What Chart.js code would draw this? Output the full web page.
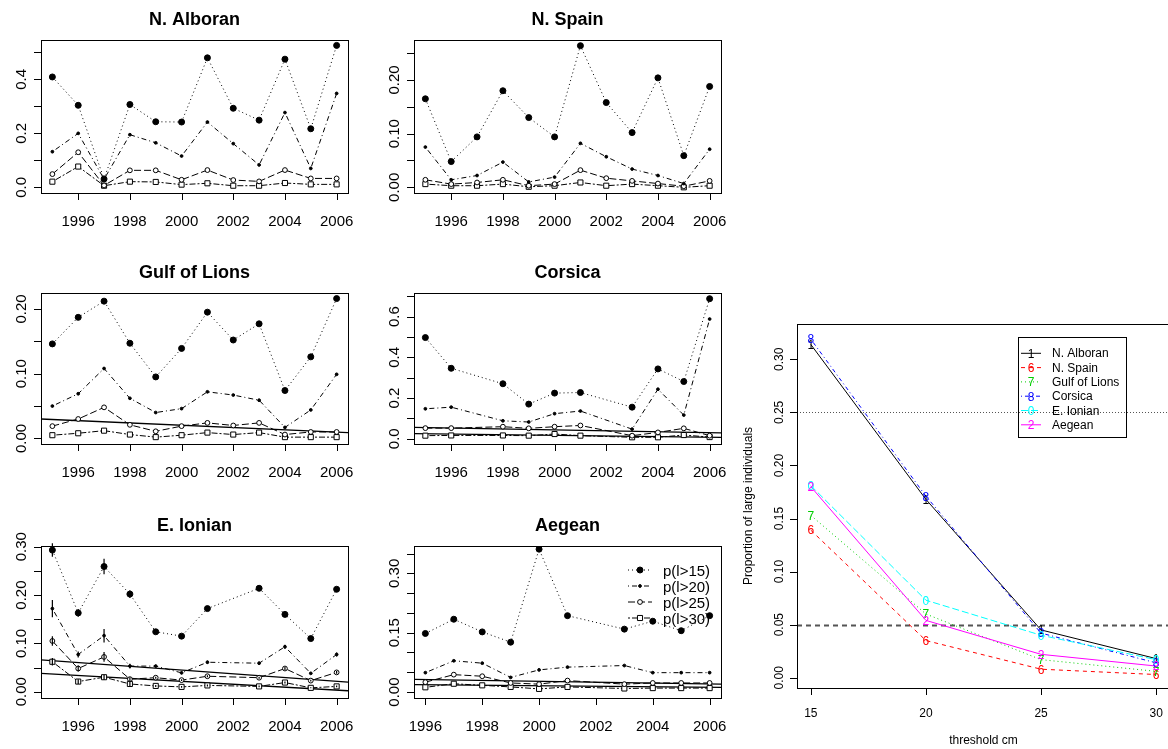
<!DOCTYPE html>
<html>
<head>
<meta charset="utf-8">
<title>Proportion of large individuals</title>
<script src="https://cdn.jsdelivr.net/npm/chart.js@4/dist/chart.umd.min.js"></script>
<style>
    body { margin: 0; background: #fff; overflow: hidden; }
    #wrap { position: relative; width: 1168px; height: 749px; overflow: hidden; background: #fff; }
    #wrap canvas { position: absolute; }
</style>
</head>
<body>
<div id="wrap"></div>
<script>
// ---- Données ----
const yearsAll = [1995, 1996, 1997, 1998, 1999, 2000, 2001, 2002, 2003, 2004, 2005, 2006];
const yearsCorsica = [1995, 1996, 1998, 1999, 2000, 2001, 2003, 2004, 2005, 2006];
const yearsIonian = [1995, 1996, 1997, 1998, 1999, 2000, 2001, 2003, 2004, 2005, 2006];
const yearsAegean = [1996, 1997, 1998, 1999, 2000, 2001, 2003, 2004, 2005, 2006];
const yearTicks = [1996, 1998, 2000, 2002, 2004, 2006];

const seriesLabels = ['p(l>15)', 'p(l>20)', 'p(l>25)', 'p(l>30)'];

const alboran15 = [0.409, 0.304, 0.031, 0.307, 0.243, 0.242, 0.480, 0.293, 0.249, 0.475, 0.217, 0.526];
const alboran20 = [0.132, 0.200, 0.030, 0.195, 0.165, 0.116, 0.242, 0.162, 0.083, 0.277, 0.070, 0.348];
const alboran25 = [0.049, 0.130, 0.007, 0.063, 0.063, 0.028, 0.064, 0.027, 0.022, 0.064, 0.033, 0.033];
const alboran30 = [0.021, 0.077, 0.006, 0.021, 0.020, 0.010, 0.015, 0.006, 0.006, 0.016, 0.011, 0.011];

const spain15 = [0.165, 0.048, 0.094, 0.180, 0.130, 0.094, 0.264, 0.158, 0.102, 0.204, 0.059, 0.188];
const spain20 = [0.075, 0.014, 0.022, 0.047, 0.010, 0.019, 0.082, 0.057, 0.034, 0.022, 0.007, 0.071];
const spain25 = [0.014, 0.006, 0.009, 0.014, 0.003, 0.006, 0.032, 0.017, 0.012, 0.007, 0.002, 0.012];
const spain30 = [0.006, 0.003, 0.003, 0.006, 0.001, 0.003, 0.009, 0.003, 0.006, 0.003, 0.000, 0.003];

const lions15 = [0.146, 0.187, 0.212, 0.147, 0.095, 0.139, 0.195, 0.152, 0.177, 0.074, 0.126, 0.216];
const lions20 = [0.050, 0.069, 0.108, 0.062, 0.040, 0.046, 0.072, 0.067, 0.059, 0.017, 0.044, 0.099];
const lions25 = [0.019, 0.030, 0.048, 0.021, 0.011, 0.019, 0.024, 0.020, 0.024, 0.006, 0.010, 0.010];
const lions30 = [0.005, 0.008, 0.012, 0.006, 0.002, 0.005, 0.009, 0.006, 0.009, 0.002, 0.002, 0.002];
const lionsTrend = [[0.030, 0.009]];

const corsica15 = [0.497, 0.346, 0.270, 0.170, 0.224, 0.227, 0.155, 0.343, 0.281, 0.688];
const corsica20 = [0.147, 0.155, 0.088, 0.082, 0.123, 0.136, 0.047, 0.243, 0.116, 0.588];
const corsica25 = [0.052, 0.052, 0.059, 0.051, 0.059, 0.065, 0.015, 0.031, 0.051, 0.015];
const corsica30 = [0.015, 0.016, 0.016, 0.015, 0.023, 0.015, 0.007, 0.007, 0.018, 0.008];
const corsicaTrend = [[0.056, 0.029], [0.025, 0.007]];

const ionian15 = [0.293, 0.163, 0.259, 0.202, 0.124, 0.115, 0.172, 0.214, 0.160, 0.110, 0.212];
const ionian20 = [0.172, 0.077, 0.116, 0.053, 0.053, 0.039, 0.061, 0.059, 0.093, 0.038, 0.077];
const ionian25 = [0.105, 0.048, 0.072, 0.026, 0.029, 0.024, 0.032, 0.029, 0.048, 0.023, 0.040];
const ionian30 = [0.062, 0.021, 0.030, 0.016, 0.012, 0.010, 0.013, 0.011, 0.019, 0.008, 0.011];
const ionianErr15 = [0.014, 0.008, 0.016, 0.008, 0.004, 0.003, 0.003, 0.004, 0.004, 0.003, 0.004];
const ionianErr20 = [0.018, 0.006, 0.014, 0.005, 0.003, 0.003, 0.003, 0.003, 0.004, 0.002, 0.004];
const ionianErr25 = [0.010, 0.006, 0.010, 0.004, 0.002, 0.002, 0.002, 0.002, 0.003, 0.002, 0.003];
const ionianErr30 = [0.008, 0.005, 0.005, 0.004, 0.002, 0.002, 0.002, 0.002, 0.002, 0.001, 0.002];
const ionianTrend = [[0.066, 0.020], [0.038, 0.002]];

const aegean15 = [0.148, 0.184, 0.152, 0.126, 0.361, 0.193, 0.159, 0.179, 0.155, 0.193];
const aegean20 = [0.049, 0.079, 0.073, 0.037, 0.056, 0.063, 0.067, 0.049, 0.049, 0.049];
const aegean25 = [0.025, 0.044, 0.040, 0.023, 0.020, 0.029, 0.020, 0.023, 0.023, 0.023];
const aegean30 = [0.012, 0.021, 0.017, 0.013, 0.008, 0.013, 0.009, 0.010, 0.010, 0.010];
const aegeanTrend = [[0.032, 0.020], [0.019, 0.012]];

// Graphique de droite
const thresholds = [15, 20, 25, 30];
const regionNames = ['N. Alboran', 'N. Spain', 'Gulf of Lions', 'Corsica', 'E. Ionian', 'Aegean'];
const regionChars = ['1', '6', '7', '8', '0', '2'];
const propAlboran = [0.314, 0.168, 0.045, 0.018];
const propSpain = [0.139, 0.035, 0.008, 0.003];
const propLions = [0.153, 0.060, 0.017, 0.006];
const propCorsica = [0.319, 0.171, 0.042, 0.014];
const propIonian = [0.181, 0.073, 0.040, 0.017];
const propAegean = [0.180, 0.054, 0.022, 0.011];
const refLevels = [0.25, 0.05];

// ---- Styles ----
const FONT = '"Liberation Sans", Arial, Helvetica, sans-serif';
const seriesLook = [
    { dash: [1, 3], shape: 'circle', r: 3, fill: '#000', bw: 1 },
    { dash: [1, 3, 5, 3], shape: 'circle', r: 1.4, fill: '#000', bw: 1 },
    { dash: [7, 3], shape: 'circle', r: 2.4, fill: '#fff', bw: 1 },
    { dash: [2, 2, 6, 2], shape: 'rect', r: 3.6, fill: '#fff', bw: 1 }
];
const regionColors = ['#000000', '#FF0000', '#00CD00', '#0000FF', '#00FFFF', '#FF00FF'];
const regionDash = [[], [4, 4], [1, 3], [1, 3, 4, 3], [7, 3], []];
const refStyles = [
    { color: '#555', width: 1, dash: [1, 2] },
    { color: '#555', width: 2, dash: [5, 4] }
];

const panels = [
    { title: 'N. Alboran', years: yearsAll, series: [alboran15, alboran20, alboran25, alboran30], trends: [],
      box: [41, 40, 348, 193], x: [1994.56, 2006.44], y: [-0.021, 0.546],
      yTicks: [0, 0.1, 0.2, 0.3, 0.4, 0.5], yLabels: [0, 0.2, 0.4], dec: 1 },
    { title: 'N. Spain', years: yearsAll, series: [spain15, spain20, spain25, spain30], trends: [],
      box: [414, 40, 721, 193], x: [1994.56, 2006.44], y: [-0.0106, 0.2746],
      yTicks: [0, 0.05, 0.1, 0.15, 0.2, 0.25], yLabels: [0, 0.1, 0.2], dec: 2 },
    { title: 'Gulf of Lions', years: yearsAll, series: [lions15, lions20, lions25, lions30], trends: lionsTrend,
      box: [41, 293, 348, 444], x: [1994.56, 2006.44], y: [-0.0086, 0.2246],
      yTicks: [0, 0.05, 0.1, 0.15, 0.2], yLabels: [0, 0.1, 0.2], dec: 2 },
    { title: 'Corsica', years: yearsCorsica, series: [corsica15, corsica20, corsica25, corsica30], trends: corsicaTrend,
      box: [414, 293, 721, 444], x: [1994.56, 2006.44], y: [-0.026, 0.716],
      yTicks: [0, 0.1, 0.2, 0.3, 0.4, 0.5, 0.6, 0.7], yLabels: [0, 0.2, 0.4, 0.6], dec: 1 },
    { title: 'E. Ionian', years: yearsIonian, series: [ionian15, ionian20, ionian25, ionian30], trends: ionianTrend,
      errs: [ionianErr15, ionianErr20, ionianErr25, ionianErr30],
      box: [41, 546, 348, 698], x: [1994.56, 2006.44], y: [-0.013, 0.3015],
      yTicks: [0, 0.05, 0.1, 0.15, 0.2, 0.25, 0.3], yLabels: [0, 0.1, 0.2, 0.3], dec: 2 },
    { title: 'Aegean', years: yearsAegean, series: [aegean15, aegean20, aegean25, aegean30], trends: aegeanTrend,
      box: [414, 546, 721, 698], x: [1995.6, 2006.4], y: [-0.015, 0.369],
      yTicks: [0, 0.05, 0.1, 0.15, 0.2, 0.25, 0.3, 0.35], yLabels: [0, 0.15, 0.3], dec: 2,
      legend: { lineX: [214, 238], textX: 249, rowY: [24, 40, 56, 72] } }
];

const wrap = document.getElementById('wrap');

function makeCanvas(box, pad) {
    const c = document.createElement('canvas');
    const w = box[2] - box[0] + pad.left + pad.right;
    const h = box[3] - box[1] + pad.top + pad.bottom;
    c.width = w; c.height = h;
    c.style.width = w + 'px'; c.style.height = h + 'px';
    c.style.left = (box[0] - pad.left) + 'px';
    c.style.top = (box[1] - pad.top) + 'px';
    wrap.appendChild(c);
    return c;
}

function drawMark(ctx, look, x, y) {
    ctx.save();
    ctx.setLineDash([]);
    ctx.lineWidth = look.bw;
    ctx.strokeStyle = '#000';
    ctx.fillStyle = look.fill;
    ctx.beginPath();
    if (look.shape === 'rect') {
        const s = look.r / Math.SQRT2;
        ctx.rect(x - s, y - s, 2 * s, 2 * s);
    } else {
        ctx.arc(x, y, look.r, 0, 2 * Math.PI);
    }
    ctx.fill();
    ctx.stroke();
    ctx.restore();
}

// Axes façon R : cadre, graduations vers l'extérieur, étiquettes Y verticales
function axesPlugin(p) {
    return {
        id: 'rAxes',
        afterDraw(chart) {
            const ctx = chart.ctx, a = chart.chartArea;
            const sx = chart.scales.x, sy = chart.scales.y;
            ctx.save();
            ctx.setLineDash([]);
            ctx.strokeStyle = '#000';
            ctx.lineWidth = 1;
            ctx.strokeRect(a.left + 0.5, a.top + 0.5, a.right - a.left, a.bottom - a.top);

            ctx.beginPath();
            p.xTicks.forEach(v => {
                const px = Math.round(sx.getPixelForValue(v)) + 0.5;
                ctx.moveTo(px, a.bottom); ctx.lineTo(px, a.bottom + 7);
            });
            p.yTicks.forEach(v => {
                const py = Math.round(sy.getPixelForValue(v)) + 0.5;
                ctx.moveTo(a.left, py); ctx.lineTo(a.left - 7, py);
            });
            ctx.stroke();

            ctx.fillStyle = '#000';
            ctx.font = p.tickFont + 'px ' + FONT;
            ctx.textAlign = 'center';
            ctx.textBaseline = 'alphabetic';
            p.xLabels.forEach(v => ctx.fillText(String(v), sx.getPixelForValue(v), a.bottom + p.xGap));
            p.yLabels.forEach(v => {
                ctx.save();
                ctx.translate(a.left - p.yGap, sy.getPixelForValue(v));
                ctx.rotate(-Math.PI / 2);
                ctx.fillText(v.toFixed(p.dec), 0, 0);
                ctx.restore();
            });

            if (p.title) {
                ctx.font = 'bold ' + p.titleFont + 'px ' + FONT;
                ctx.fillText(p.title, (a.left + a.right) / 2, a.top - 15);
            }
            if (p.xTitle) {
                ctx.font = p.tickFont + 'px ' + FONT;
                ctx.fillText(p.xTitle, (a.left + a.right) / 2, a.bottom + 56);
            }
            if (p.yTitle) {
                ctx.save();
                ctx.translate(a.left - 45, (a.top + a.bottom) / 2);
                ctx.rotate(-Math.PI / 2);
                ctx.fillText(p.yTitle, 0, 0);
                ctx.restore();
            }
            ctx.restore();
        }
    };
}

// Barres d'erreur, caractères de points et légendes
const extrasPlugin = {
    id: 'rExtras',
    beforeDatasetsDraw(chart) {
        const refs = chart.config.options.refLines;
        if (!refs) return;
        const ctx = chart.ctx, a = chart.chartArea, sy = chart.scales.y;
        ctx.save();
        refs.forEach((v, k) => {
            const st = refStyles[k];
            const py = Math.round(sy.getPixelForValue(v)) + 0.5;
            ctx.strokeStyle = st.color; ctx.lineWidth = st.width; ctx.setLineDash(st.dash);
            ctx.beginPath(); ctx.moveTo(a.left, py); ctx.lineTo(a.right, py); ctx.stroke();
        });
        ctx.restore();
    },
    afterDatasetsDraw(chart) {
        const ctx = chart.ctx, sy = chart.scales.y;
        ctx.save();
        chart.data.datasets.forEach((ds, i) => {
            const meta = chart.getDatasetMeta(i);
            if (ds.errs) {
                ctx.setLineDash([]);
                ctx.strokeStyle = '#000';
                ctx.lineWidth = 1.2;
                ctx.beginPath();
                meta.data.forEach((pt, j) => {
                    const v = ds.data[j].y, e = ds.errs[j];
                    ctx.moveTo(pt.x, sy.getPixelForValue(v + e));
                    ctx.lineTo(pt.x, sy.getPixelForValue(v - e));
                });
                ctx.stroke();
            }
            if (ds.pch) {
                ctx.font = '12px ' + FONT;
                ctx.textAlign = 'center';
                ctx.textBaseline = 'alphabetic';
                ctx.fillStyle = ds.borderColor;
                meta.data.forEach(pt => ctx.fillText(ds.pch, pt.x, pt.y + 4.3));
            }
        });
        ctx.restore();
    },
    afterDraw(chart) {
        const lg = chart.config.options.rLegend;
        if (!lg) return;
        const ctx = chart.ctx, a = chart.chartArea;
        ctx.save();
        if (lg.box) {
            ctx.setLineDash([]);
            ctx.strokeStyle = '#000';
            ctx.lineWidth = 1;
            ctx.strokeRect(a.left + lg.box[0] + 0.5, a.top + lg.box[1] + 0.5, lg.box[2] - lg.box[0], lg.box[3] - lg.box[1]);
        }
        lg.items.forEach((it, k) => {
            const y = a.top + lg.rowY[k];
            ctx.strokeStyle = it.color;
            ctx.lineWidth = 1;
            ctx.setLineDash(it.dash);
            ctx.beginPath();
            ctx.moveTo(a.left + lg.lineX[0], y); ctx.lineTo(a.left + lg.lineX[1], y);
            ctx.stroke();
            const mx = a.left + (lg.lineX[0] + lg.lineX[1]) / 2;
            if (it.look) drawMark(ctx, it.look, mx, y);
            if (it.pch) {
                ctx.font = '12px ' + FONT;
                ctx.textAlign = 'center';
                ctx.fillStyle = it.color;
                ctx.fillText(it.pch, mx, y + 4.3);
            }
            ctx.font = lg.font + 'px ' + FONT;
            ctx.textAlign = 'left';
            ctx.fillStyle = '#000';
            ctx.fillText(it.label, a.left + lg.textX, y + lg.textDy);
        });
        ctx.restore();
    }
};

// ---- Six panneaux régionaux ----
panels.forEach(p => {
    const pad = { left: 40, top: 40, right: 12, bottom: 48 };
    const canvas = makeCanvas(p.box, pad);
    const datasets = p.series.map((vals, s) => {
        const look = seriesLook[s];
        return {
            label: seriesLabels[s],
            data: p.years.map((yr, i) => ({ x: yr, y: vals[i] })),
            errs: p.errs ? p.errs[s] : null,
            borderColor: '#000',
            borderWidth: 1,
            borderDash: look.dash,
            pointStyle: look.shape,
            pointRadius: look.r,
            pointBorderWidth: look.bw,
            pointBackgroundColor: look.fill,
            pointBorderColor: '#000',
            tension: 0,
            fill: false
        };
    });
    p.trends.forEach(t => {
        datasets.push({
            label: 'trend',
            data: [{ x: p.x[0], y: t[0] }, { x: p.x[1], y: t[1] }],
            borderColor: '#000',
            borderWidth: 1.3,
            pointRadius: 0,
            tension: 0,
            fill: false
        });
    });

    const options = {
        responsive: false,
        animation: false,
        events: [],
        layout: { padding: pad },
        plugins: { legend: { display: false }, tooltip: { enabled: false } },
        scales: {
            x: { type: 'linear', display: false, min: p.x[0], max: p.x[1] },
            y: { type: 'linear', display: false, min: p.y[0], max: p.y[1] }
        }
    };
    if (p.legend) {
        options.rLegend = {
            lineX: p.legend.lineX, textX: p.legend.textX, rowY: p.legend.rowY, font: 15, textDy: 6,
            items: seriesLabels.map((lab, s) => ({ label: lab, color: '#000', dash: seriesLook[s].dash, look: seriesLook[s] }))
        };
    }

    new Chart(canvas.getContext('2d'), {
        type: 'line',
        data: { datasets },
        options,
        plugins: [extrasPlugin, axesPlugin({
            title: p.title, titleFont: 18, tickFont: 15,
            xTicks: yearTicks, xLabels: yearTicks, xGap: 33,
            yTicks: p.yTicks, yLabels: p.yLabels, dec: p.dec, yGap: 15.5
        })]
    });
});

// ---- Graphique de droite : proportion selon le seuil ----
(function () {
    const box = [797, 324, 1170, 688];
    const pad = { left: 60, top: 20, right: 10, bottom: 61 };
    const canvas = makeCanvas(box, pad);
    const props = [propAlboran, propSpain, propLions, propCorsica, propIonian, propAegean];
    const datasets = props.map((vals, r) => ({
        label: regionNames[r],
        data: thresholds.map((t, i) => ({ x: t, y: vals[i] })),
        pch: regionChars[r],
        borderColor: regionColors[r],
        borderDash: regionDash[r],
        borderWidth: 1,
        pointRadius: 0,
        tension: 0,
        fill: false,
        order: props.length - r
    }));

    new Chart(canvas.getContext('2d'), {
        type: 'line',
        data: { datasets },
        options: {
            responsive: false,
            animation: false,
            events: [],
            layout: { padding: pad },
            refLines: refLevels,
            rLegend: {
                box: [221, 13, 329, 113], lineX: [224, 244], textX: 255, font: 12, textDy: 4,
                rowY: [29.3, 43.6, 57.9, 72.2, 86.5, 100.8],
                items: regionNames.map((n, r) => ({ label: n, color: regionColors[r], dash: regionDash[r], pch: regionChars[r] }))
            },
            plugins: { legend: { display: false }, tooltip: { enabled: false } },
            scales: {
                x: { type: 'linear', display: false, min: 14.4, max: 30.6 },
                y: { type: 'linear', display: false, min: -0.0097, max: 0.3333 }
            }
        },
        plugins: [extrasPlugin, axesPlugin({
            tickFont: 12,
            xTicks: thresholds, xLabels: thresholds, xGap: 29,
            yTicks: [0, 0.05, 0.1, 0.15, 0.2, 0.25, 0.3], yLabels: [0, 0.05, 0.1, 0.15, 0.2, 0.25, 0.3], dec: 2, yGap: 14.3,
            xTitle: 'threshold cm', yTitle: 'Proportion of large individuals'
        })]
    });
})();
</script>
</body>
</html>
